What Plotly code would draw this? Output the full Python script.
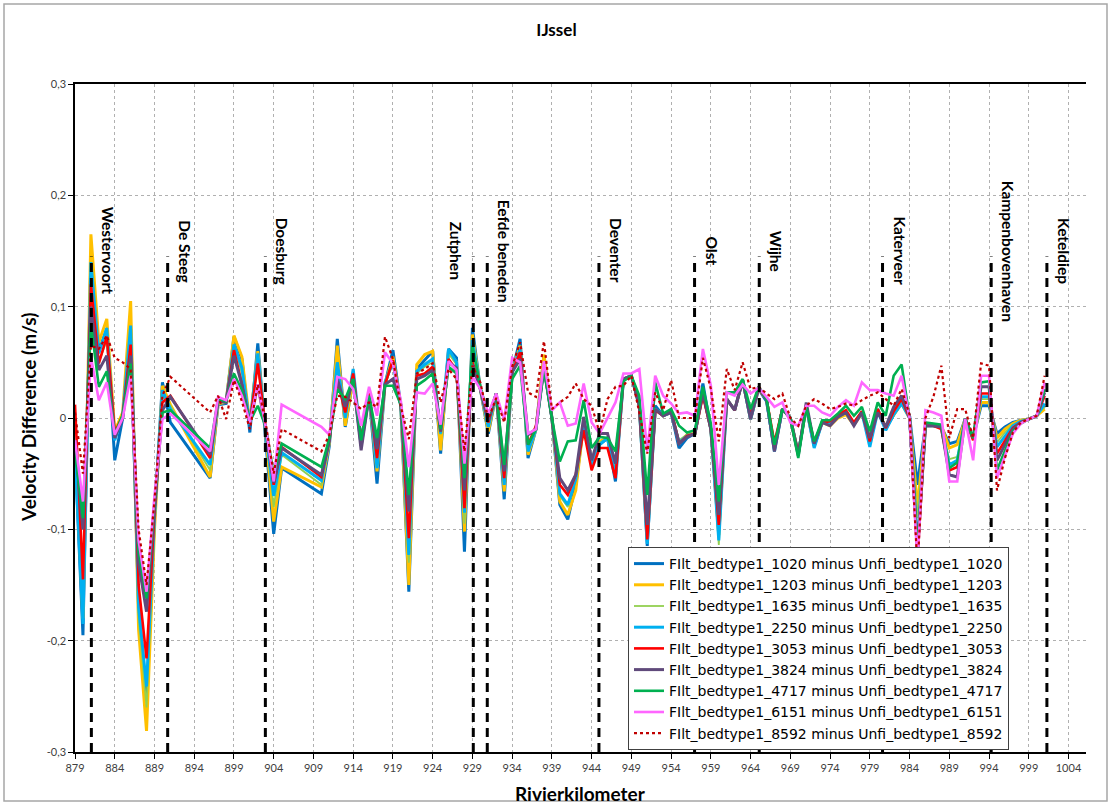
import plotly.graph_objects as go

km = [879, 880, 881, 882, 883, 884, 885, 886, 887, 888, 889, 890, 891,
      896, 897, 898, 899, 900, 901, 902, 903, 904, 905,
      910, 911, 912, 913, 914, 915, 916, 917, 918, 919, 920, 921, 922, 923, 924,
      925, 926, 927, 928, 929, 930, 931, 932, 933, 934, 935, 936, 937, 938, 939,
      940, 941, 942, 943, 944, 945, 946, 947, 948, 949, 950, 951, 952, 953, 954,
      955, 956, 957, 958, 959, 960, 961, 962, 963, 964, 965, 966, 967, 968, 969,
      970, 971, 972, 973, 974, 975, 976, 977, 978, 979, 980, 981, 982, 983, 984,
      985, 986, 987, 988, 989, 990, 991, 992, 993, 994, 995, 996, 997, 998, 999,
      1000, 1001]

q1020 = [-0.03, -0.195, 0.145, 0.06, 0.08, -0.038, 0.0, 0.08, -0.17, -0.254, -0.09, 0.032, -0.004,
         -0.054, 0.012, 0.013, 0.073, 0.053, -0.013, 0.067, -0.02, -0.104, -0.045,
         -0.068, -0.025, 0.071, -0.008, 0.035, -0.025, 0.02, -0.059, 0.03, 0.061, 0.011, -0.156, 0.044, 0.052, 0.06,
         -0.032, 0.062, 0.054, -0.12, 0.081, 0.026, -0.014, 0.022, -0.073, 0.041, 0.071, -0.036, -0.01, 0.056, 0.0,
         -0.078, -0.091, -0.06, -0.006, -0.039, -0.024, -0.018, -0.057, 0.035, 0.038, 0.011, -0.115, 0.011, 0.002, 0.005,
         -0.027, -0.018, -0.014, 0.031, -0.01, -0.1, 0.017, 0.007, 0.034, -0.001, 0.026, 0.015, -0.028, 0.008, 0.0,
         -0.032, 0.01, -0.025, -0.004, -0.005, 0.001, 0.005, -0.005, 0.005, -0.02, 0.008, -0.01, 0.003, 0.014, 0.002,
         -0.06, -0.007, -0.007, -0.008, -0.023, -0.021, -0.001, -0.018, 0.011, 0.011, -0.014, -0.008, -0.004, -0.002, -0.001,
         0.002, 0.011]
q1203 = [-0.02, -0.18, 0.165, 0.068, 0.089, -0.012, 0.005, 0.105, -0.19, -0.281, -0.1, 0.029, 0.012,
         -0.053, 0.013, 0.014, 0.074, 0.055, -0.005, 0.06, -0.015, -0.093, -0.044,
         -0.062, -0.022, 0.065, -0.007, 0.035, -0.02, 0.02, -0.048, 0.03, 0.055, 0.01, -0.15, 0.048, 0.057, 0.06,
         -0.029, 0.06, 0.05, -0.102, 0.075, 0.026, -0.012, 0.022, -0.066, 0.041, 0.065, -0.033, -0.01, 0.057, 0.0,
         -0.075, -0.087, -0.065, -0.005, -0.04, -0.021, -0.018, -0.05, 0.035, 0.038, 0.011, -0.108, 0.008, 0.002, 0.005,
         -0.022, -0.015, -0.014, 0.023, -0.01, -0.105, 0.017, 0.007, 0.034, -0.001, 0.026, 0.017, -0.027, 0.008, 0.0,
         -0.032, 0.01, -0.025, -0.004, -0.007, 0.0, 0.003, -0.006, 0.004, -0.018, 0.006, -0.008, 0.002, 0.013, 0.0,
         -0.08, -0.007, -0.007, -0.007, -0.027, -0.024, -0.001, -0.018, 0.014, 0.014, -0.018, -0.01, -0.005, -0.002, -0.001,
         0.002, 0.008]
q1635 = [-0.03, -0.183, 0.13, 0.05, 0.07, -0.015, 0.0, 0.07, -0.18, -0.26, -0.095, 0.02, 0.011,
         -0.047, 0.015, 0.014, 0.066, 0.04, -0.005, 0.05, -0.012, -0.08, -0.033,
         -0.06, -0.02, 0.05, 0.0, 0.035, -0.02, 0.02, -0.045, 0.03, 0.05, 0.01, -0.13, 0.04, 0.046, 0.05,
         -0.015, 0.058, 0.048, -0.095, 0.065, 0.026, -0.008, 0.022, -0.06, 0.041, 0.06, -0.03, -0.01, 0.045, 0.0,
         -0.07, -0.08, -0.055, -0.005, -0.04, -0.022, -0.018, -0.05, 0.035, 0.038, 0.011, -0.105, 0.008, 0.002, 0.005,
         -0.02, -0.015, -0.014, 0.023, -0.01, -0.114, 0.017, 0.007, 0.034, -0.001, 0.026, 0.017, -0.027, 0.008, 0.0,
         -0.032, 0.01, -0.025, -0.004, -0.005, 0.001, 0.005, -0.005, 0.005, -0.018, 0.008, -0.008, 0.004, 0.014, 0.002,
         -0.09, -0.007, -0.007, -0.008, -0.037, -0.035, -0.001, -0.018, 0.017, 0.017, -0.022, -0.013, -0.006, -0.003, -0.001,
         0.002, 0.01]
q2250 = [-0.03, -0.185, 0.14, 0.058, 0.081, -0.02, 0.002, 0.083, -0.17, -0.241, -0.09, 0.025, 0.008,
         -0.042, 0.015, 0.014, 0.066, 0.045, -0.006, 0.058, -0.014, -0.07, -0.031,
         -0.056, -0.02, 0.05, 0.0, 0.044, -0.02, 0.022, -0.045, 0.032, 0.05, 0.01, -0.123, 0.042, 0.048, 0.053,
         -0.014, 0.062, 0.05, -0.085, 0.07, 0.026, -0.008, 0.022, -0.06, 0.041, 0.062, -0.03, -0.01, 0.047, 0.0,
         -0.068, -0.078, -0.055, -0.005, -0.042, -0.024, -0.018, -0.052, 0.035, 0.038, 0.011, -0.113, 0.008, 0.002, 0.005,
         -0.022, -0.016, -0.014, 0.023, -0.01, -0.11, 0.017, 0.007, 0.034, -0.001, 0.026, 0.017, -0.03, 0.008, 0.0,
         -0.032, 0.01, -0.027, -0.004, -0.005, 0.001, 0.005, -0.005, 0.005, -0.026, 0.006, -0.011, 0.003, 0.013, 0.0,
         -0.115, -0.007, -0.007, -0.008, -0.042, -0.038, -0.001, -0.018, 0.019, 0.019, -0.026, -0.016, -0.007, -0.003, -0.001,
         0.002, 0.013]
q3053 = [0.012, -0.145, 0.12, 0.049, 0.073, -0.013, 0.002, 0.066, -0.15, -0.216, -0.085, 0.014, 0.02,
         -0.036, 0.016, 0.014, 0.061, 0.03, -0.005, 0.049, -0.01, -0.06, -0.026,
         -0.053, -0.02, 0.034, 0.005, 0.04, -0.02, 0.022, -0.036, 0.03, 0.052, 0.012, -0.108, 0.038, 0.04, 0.046,
         -0.012, 0.053, 0.043, -0.081, 0.051, 0.026, -0.004, 0.022, -0.054, 0.041, 0.059, -0.024, -0.007, 0.045, 0.0,
         -0.06, -0.069, -0.051, -0.011, -0.047, -0.027, -0.027, -0.054, 0.035, 0.038, 0.011, -0.109, 0.007, 0.002, 0.008,
         -0.023, -0.016, -0.014, 0.02, -0.01, -0.096, 0.017, 0.007, 0.034, 0.002, 0.026, 0.017, -0.022, 0.008, 0.0,
         -0.032, 0.01, -0.022, -0.004, -0.003, 0.003, 0.007, -0.004, 0.006, -0.021, 0.008, -0.009, 0.006, 0.017, 0.0,
         -0.125, -0.007, -0.007, -0.01, -0.047, -0.044, -0.001, -0.02, 0.022, 0.022, -0.032, -0.02, -0.009, -0.004, -0.001,
         0.002, 0.02]
q3824 = [-0.02, -0.1, 0.1, 0.043, 0.056, -0.018, 0.0, 0.056, -0.13, -0.174, -0.08, 0.007, 0.019,
         -0.033, 0.016, 0.014, 0.056, 0.03, -0.005, 0.03, -0.01, -0.058, -0.027,
         -0.051, -0.02, 0.035, 0.01, 0.035, -0.029, 0.02, -0.028, 0.03, 0.035, 0.012, -0.084, 0.035, 0.038, 0.043,
         -0.012, 0.05, 0.045, -0.065, 0.048, 0.026, -0.002, 0.022, -0.048, 0.041, 0.053, -0.015, -0.01, 0.045, 0.0,
         -0.054, -0.065, -0.051, 0.001, -0.038, -0.014, -0.014, -0.041, 0.035, 0.038, 0.011, -0.096, 0.008, 0.002, 0.005,
         -0.023, -0.017, -0.014, 0.023, -0.01, -0.087, 0.017, 0.007, 0.034, -0.001, 0.028, 0.017, -0.03, 0.008, 0.0,
         -0.034, 0.014, -0.023, -0.004, -0.007, 0.001, 0.005, -0.007, 0.005, -0.018, 0.005, -0.008, 0.01, 0.02, 0.002,
         -0.12, -0.007, -0.007, -0.008, -0.051, -0.053, -0.001, -0.018, 0.028, 0.028, -0.038, -0.024, -0.01, -0.004, -0.001,
         0.002, 0.023]
q4717 = [-0.03, -0.09, 0.085, 0.028, 0.042, -0.015, 0.003, 0.049, -0.12, -0.162, -0.075, 0.005, 0.007,
         -0.027, 0.017, 0.015, 0.04, 0.025, -0.003, 0.011, -0.008, -0.051, -0.023,
         -0.044, -0.018, 0.026, 0.017, 0.035, -0.02, 0.02, -0.018, 0.029, 0.029, 0.012, -0.069, 0.029, 0.034, 0.04,
         -0.01, 0.046, 0.04, -0.054, 0.065, 0.028, 0.002, 0.022, -0.042, 0.035, 0.047, -0.024, -0.01, 0.044, 0.0,
         -0.039, -0.021, -0.02, 0.016, -0.027, -0.017, -0.018, -0.03, 0.033, 0.038, 0.02, -0.069, 0.032, 0.004, 0.008,
         -0.007, -0.013, -0.011, 0.028, -0.005, -0.075, 0.023, 0.023, 0.035, 0.008, 0.028, 0.017, -0.024, 0.008, 0.0,
         -0.036, 0.01, -0.021, -0.002, -0.002, 0.004, 0.011, 0.002, 0.01, -0.012, 0.014, 0.002, 0.038, 0.048, 0.0,
         -0.12, -0.004, -0.005, -0.006, -0.045, -0.04, -0.001, -0.018, 0.032, 0.033, -0.047, -0.03, -0.012, -0.005, -0.001,
         0.002, 0.026]
q6151 = [-0.02, -0.075, 0.055, 0.016, 0.032, -0.015, 0.0, 0.038, -0.11, -0.156, -0.07, -0.001, 0.004,
         -0.03, 0.019, 0.016, 0.035, 0.02, -0.004, 0.03, -0.008, -0.057, 0.012,
         -0.008, -0.015, 0.037, 0.035, 0.026, -0.007, 0.028, 0.002, 0.059, 0.049, 0.015, -0.044, 0.023, 0.022, 0.031,
         -0.006, 0.051, 0.043, -0.041, 0.037, 0.026, 0.004, 0.022, -0.002, 0.054, 0.05, -0.014, -0.01, 0.051, 0.007,
         0.014, -0.007, -0.005, 0.031, -0.004, -0.014, 0.0, 0.014, 0.04, 0.04, 0.044, -0.03, 0.038, 0.02, 0.013,
         0.004, 0.005, 0.002, 0.062, 0.029, -0.06, 0.023, 0.02, 0.03, 0.022, 0.027, 0.019, 0.01, 0.014, -0.004,
         -0.007, 0.011, 0.011, 0.005, 0.002, 0.01, 0.016, 0.011, 0.032, 0.025, 0.025, 0.022, 0.02, 0.038, 0.0,
         -0.13, 0.007, 0.005, 0.002, -0.057, -0.057, -0.001, -0.038, 0.038, 0.038, -0.054, -0.034, -0.014, -0.005, -0.001,
         0.002, 0.032]
q8592 = [0.005, -0.05, 0.065, 0.062, 0.074, 0.054, 0.05, 0.044, -0.1, -0.15, -0.075, 0.02, 0.037,
         0.005, 0.02, -0.001, 0.034, 0.015, -0.01, 0.03, -0.005, -0.05, -0.01,
         -0.03, -0.015, 0.02, 0.019, 0.014, 0.008, 0.014, 0.01, 0.073, 0.053, 0.01, -0.019, 0.04, 0.044, 0.049,
         0.014, 0.044, 0.035, -0.03, 0.047, 0.032, -0.001, 0.018, -0.004, 0.046, 0.068, 0.023, 0.019, 0.069, 0.008,
         0.014, 0.019, 0.031, 0.017, 0.011, -0.013, 0.017, 0.028, 0.029, 0.038, 0.005, -0.032, 0.023, 0.007, 0.034,
         0.0, 0.0, 0.0, 0.054, 0.026, -0.021, 0.044, 0.025, 0.05, 0.026, 0.028, 0.022, 0.017, 0.022, 0.0,
         -0.007, 0.011, 0.017, 0.013, 0.008, 0.01, 0.013, 0.011, 0.016, 0.02, 0.023, 0.017, 0.011, 0.026, 0.003,
         -0.135, 0.0, 0.019, 0.047, -0.018, 0.008, 0.008, -0.018, 0.049, 0.047, -0.065, -0.036, -0.013, -0.004, -0.001,
         0.002, 0.038]

series_names = [
    "FIlt_bedtype1_1020 minus Unfi_bedtype1_1020",
    "FIlt_bedtype1_1203 minus Unfi_bedtype1_1203",
    "FIlt_bedtype1_1635 minus Unfi_bedtype1_1635",
    "FIlt_bedtype1_2250 minus Unfi_bedtype1_2250",
    "FIlt_bedtype1_3053 minus Unfi_bedtype1_3053",
    "FIlt_bedtype1_3824 minus Unfi_bedtype1_3824",
    "FIlt_bedtype1_4717 minus Unfi_bedtype1_4717",
    "FIlt_bedtype1_6151 minus Unfi_bedtype1_6151",
    "FIlt_bedtype1_8592 minus Unfi_bedtype1_8592",
]
series_values = [q1020, q1203, q1635, q2250, q3053, q3824, q4717, q6151, q8592]
series_colors = ["#0070C0", "#FFC000", "#92D050", "#00B0F0", "#FF0000",
                 "#604A7B", "#00B050", "#FF66FF", "#C00000"]
series_widths = [3, 3, 1.8, 3, 2.6, 3, 2.6, 2.6, 2.2]
series_dash = ["solid"] * 8 + ["dot"]

place_names = ["Westervoort", "De Steeg", "Doesburg", "Zutphen", "Eefde beneden",
               "Deventer", "Olst", "Wijhe", "Katerveer", "Kampenbovenhaven", "Keteldiep"]
place_km = [881.06, 890.66, 902.95, 929.11, 930.87, 944.92, 956.95, 965.09,
            980.6, 994.27, 1001.28]
place_side = [1, 1, 1, -1, 1, 1, 1, 1, 1, 1, 1]
marker_top = 0.145
label_y = 0.15

ytick_vals = [-0.3, -0.2, -0.1, 0, 0.1, 0.2, 0.3]
ytick_text = ["-0,3", "-0,2", "-0,1", "0", "0,1", "0,2", "0,3"]

fig = go.Figure()
for name, vals, col, w, d in zip(series_names, series_values, series_colors,
                                 series_widths, series_dash):
    fig.add_trace(go.Scatter(x=km, y=vals, mode="lines", name=name,
                             line=dict(color=col, width=w, dash=d)))

shapes = []
annotations = []
for nm, loc, side in zip(place_names, place_km, place_side):
    shapes.append(dict(type="line", xref="x", yref="y", x0=loc, x1=loc,
                       y0=-0.3, y1=marker_top,
                       line=dict(color="black", width=3, dash="9px,6px")))
    annotations.append(dict(x=loc, y=label_y, xref="x", yref="y", text="<b>" + nm + "</b>",
                            textangle=90, showarrow=False, xshift=17 * side,
                            xanchor="center", yanchor="middle",
                            font=dict(family="Lato", size=15.5, color="black")))

L, R, T, B = 75, 27, 84, 53
W, H = 1113, 805
pw, ph = W - L - R, H - T - B
# outer chart border
shapes.append(dict(type="rect", xref="paper", yref="paper",
                   x0=(4 - L) / pw, x1=(1107 - L) / pw,
                   y0=-(801 - (H - B)) / ph, y1=1 + (T - 4) / ph,
                   line=dict(color="#A6A6A6", width=1.5), layer="below"))

annotations.append(dict(xref="paper", yref="paper", x=(28 - L) / pw, y=0.5,
                        xanchor="center", yanchor="middle",
                        text="<b>Velocity Difference (m/s)</b>", textangle=-90,
                        showarrow=False, font=dict(family="Lato", size=19, color="black")))
annotations.append(dict(xref="paper", yref="paper", x=0.5, y=-(793 - (H - B)) / ph,
                        xanchor="center", yanchor="middle",
                        text="<b>Rivierkilometer</b>", showarrow=False,
                        font=dict(family="Lato", size=19, color="black")))

fig.update_layout(
    width=W, height=H,
    margin=dict(l=L, r=R, t=T, b=B, autoexpand=False),
    paper_bgcolor="white", plot_bgcolor="white",
    title=dict(text="<b>IJssel</b>", x=0.5, xref="container", y=1 - 30 / H,
               yref="container", yanchor="middle", xanchor="center",
               font=dict(family="Lato", size=17, color="black")),
    showlegend=True,
    legend=dict(x=(628 - L) / pw, y=(H - B - 750) / ph, xanchor="left", yanchor="bottom",
                bgcolor="white", bordercolor="#404040", borderwidth=1,
                font=dict(family="DejaVu Sans", size=14, color="black"),
                tracegroupgap=0),
    shapes=shapes, annotations=annotations,
    xaxis=dict(range=[879, 1006.2], tick0=879, dtick=5, showgrid=True,
               gridcolor="#B0B0B0", griddash="3px,3px", gridwidth=1,
               showline=True, linecolor="black", linewidth=1.5, mirror=True,
               ticks="outside", ticklen=5, tickcolor="black",
               tickfont=dict(family="Lato", size=11, color="#404040"), zeroline=False),
    yaxis=dict(range=[-0.3, 0.3], tickvals=ytick_vals, ticktext=ytick_text,
               showgrid=True, gridcolor="#B0B0B0", griddash="3px,3px", gridwidth=1,
               showline=True, linecolor="black", linewidth=1.5,
               ticks="outside", ticklen=5, tickcolor="black",
               tickfont=dict(family="Lato", size=11, color="#404040"), zeroline=False),
)

fig.write_html("out.html", config={"displayModeBar": False},
               post_script="document.body.style.margin='0px';document.body.style.overflow='hidden';")
